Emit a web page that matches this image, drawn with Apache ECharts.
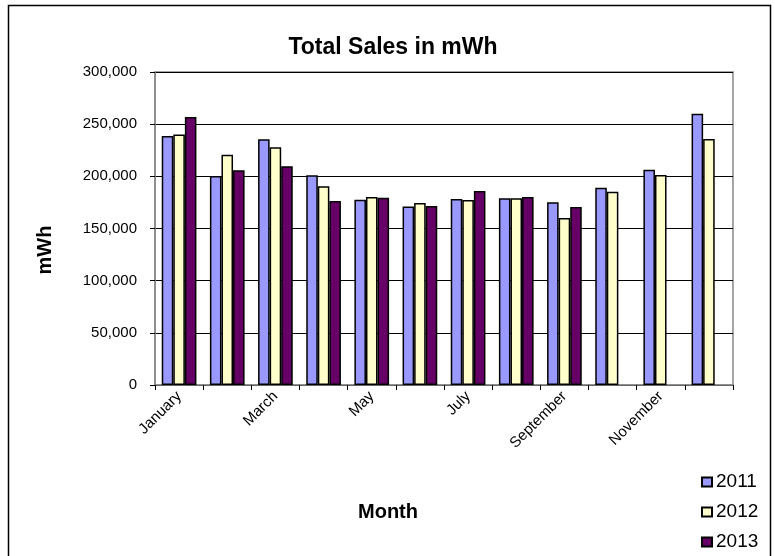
<!DOCTYPE html>
<html>
<head>
<meta charset="utf-8">
<style>
  html, body { margin: 0; padding: 0; background: #fff; }
  #chart { width: 775px; height: 556px; }
</style>
<script src="https://cdn.jsdelivr.net/npm/echarts@6/dist/echarts.min.js"></script>
</head>
<body>
<div id="chart"></div>
<script>
// Monthly total sales (mWh) by year
const months = ['January', 'February', 'March', 'April', 'May', 'June',
                'July', 'August', 'September', 'October', 'November', 'December'];
const sales2011 = [238600, 200300, 235500, 201000, 177600, 171200, 178300, 179000, 175100, 189100, 206400, 260000];
const sales2012 = [240000, 220700, 227800, 190400, 180200, 174400, 177300, 179000, 160000, 185300, 201300, 235800];
const sales2013 = [256900, 205800, 209600, 176400, 179500, 171600, 186000, 180200, 170600, null, null, null];
const years = ['2011', '2012', '2013'];
const colors = ['#9999FF', '#FFFFCC', '#660066'];

const font = 'Arial, "Liberation Sans", sans-serif';

function barSeries(name, data, color) {
  return {
    name: name,
    type: 'bar',
    data: data,
    barGap: '0%',
    barCategoryGap: '28%',
    itemStyle: { color: color, borderColor: '#000', borderWidth: 1.5 }
  };
}

const chart = echarts.init(document.getElementById('chart'), null, { renderer: 'canvas' });
chart.setOption({
  animation: false,
  backgroundColor: '#fff',
  title: {
    text: 'Total Sales in mWh',
    left: 388,
    textAlign: 'center',
    top: 31,
    textStyle: { fontFamily: font, fontSize: 23, fontWeight: 'bold', color: '#000' }
  },
  graphic: [{
    type: 'rect',
    shape: { x: 8.5, y: 5.5, width: 762, height: 560 },
    style: { fill: null, stroke: '#000', lineWidth: 1.5 },
    silent: true
  }, {
    type: 'rect',
    shape: { x: 155, y: 72, width: 578, height: 313 },
    style: { fill: null, stroke: '#888', lineWidth: 1.5 },
    silent: true
  }, {
    // y axis title
    type: 'text',
    x: 45,
    y: 250,
    rotation: Math.PI / 2,
    style: {
      text: 'mWh',
      font: 'bold 20px ' + font,
      fill: '#000',
      align: 'center',
      verticalAlign: 'middle'
    },
    silent: true
  }, {
    // x axis title
    type: 'text',
    x: 388,
    y: 512,
    style: {
      text: 'Month',
      font: 'bold 20px ' + font,
      fill: '#000',
      align: 'center',
      verticalAlign: 'middle'
    },
    silent: true
  }],
  legend: {
    data: years,
    orient: 'vertical',
    left: 701,
    top: 472,
    height: 84,
    padding: 0,
    itemWidth: 10,
    itemHeight: 9,
    itemGap: 10,
    icon: 'rect',
    textStyle: { fontFamily: font, fontSize: 19, lineHeight: 20, color: '#000', padding: [0, 0, 0, -1] }
  },
  grid: { left: 155, right: 42, top: 72, bottom: 171, containLabel: false },
  xAxis: {
    type: 'category',
    data: months,
    axisLine: { lineStyle: { color: '#888', width: 1.5 } },
    axisTick: { show: true, alignWithLabel: false, interval: 0, length: 5, lineStyle: { color: '#000' } },
    axisLabel: {
      interval: 1,
      rotate: 45,
      margin: 9,
      fontFamily: font,
      fontSize: 15,
      color: '#000'
    }
  },
  yAxis: {
    type: 'value',
    min: 0,
    max: 300000,
    interval: 50000,
    axisLine: { show: true, lineStyle: { color: '#888', width: 1.5 } },
    axisTick: { show: true, length: 5, lineStyle: { color: '#000' } },
    splitLine: { lineStyle: { color: '#000', width: 1 } },
    axisLabel: {
      margin: 18,
      fontFamily: font,
      fontSize: 15,
      color: '#000',
      formatter: v => v.toLocaleString('en-US')
    }
  },
  series: [
    barSeries(years[0], sales2011, colors[0]),
    barSeries(years[1], sales2012, colors[1]),
    barSeries(years[2], sales2013, colors[2])
  ]
});
</script>
</body>
</html>
